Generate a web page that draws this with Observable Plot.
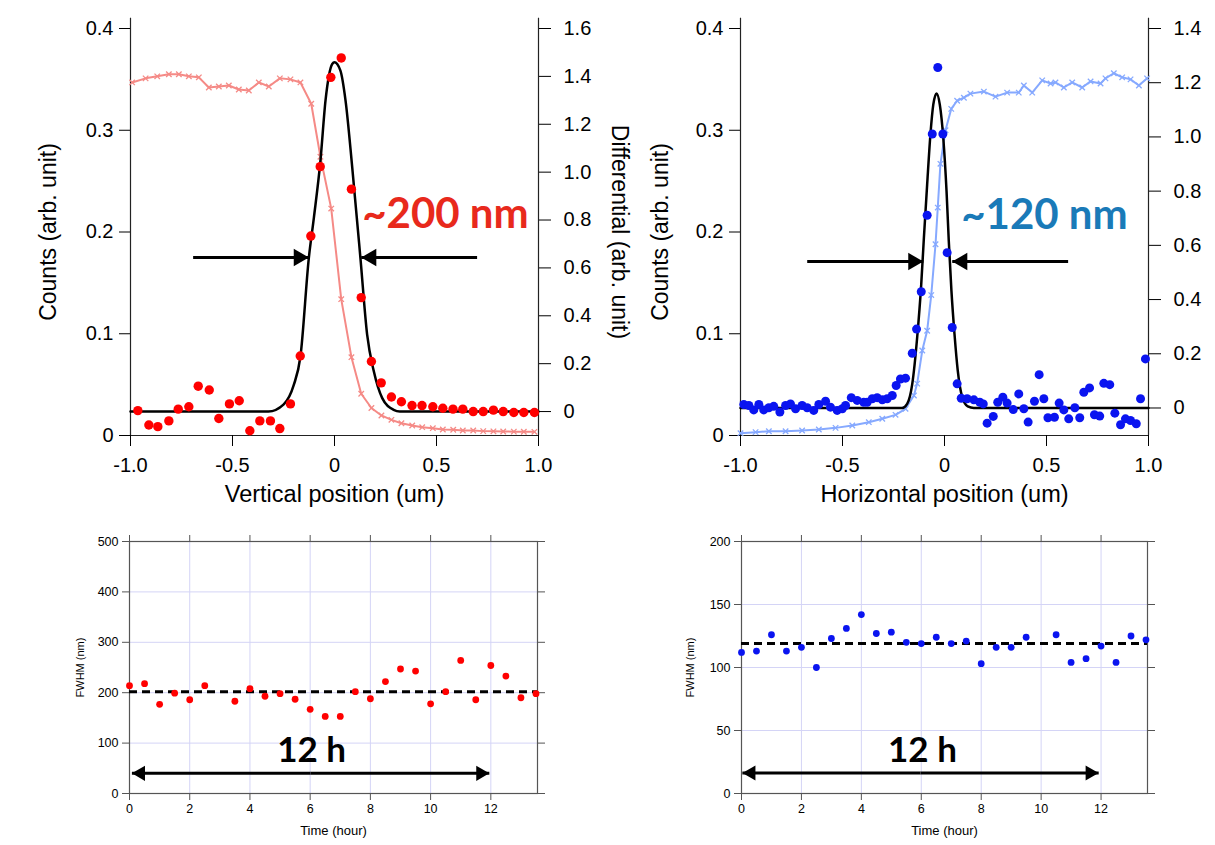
<!DOCTYPE html>
<html><head><meta charset="utf-8">
<script src="https://cdn.jsdelivr.net/npm/d3@7"></script>
<script src="https://cdn.jsdelivr.net/npm/@observablehq/plot@0.6"></script>
<style>
body{margin:0;background:#fff;}
#wrap{position:relative;width:1215px;height:845px;overflow:hidden;background:#fff;}
#wrap svg{position:absolute;overflow:visible;background:transparent;}
</style></head><body><div id="wrap"></div>
<script>
// ---------------- DATA ----------------
// Top-left: vertical scan
const tlCountX = [-0.992,-0.926,-0.869,-0.812,-0.763,-0.714,-0.665,-0.616,-0.567,-0.518,-0.469,-0.420,-0.371,-0.322,-0.268,-0.216,-0.167,-0.114,-0.069,-0.016,0.033,0.083,0.131,0.181,0.230,0.279,0.328,0.381,0.430,0.482,0.531,0.582,0.629,0.680,0.729,0.779,0.827,0.879,0.928,0.980];
const tlCountY = [0.347,0.351,0.353,0.355,0.355,0.353,0.352,0.342,0.343,0.344,0.340,0.339,0.347,0.343,0.351,0.350,0.347,0.326,0.274,0.223,0.134,0.077,0.041,0.027,0.0197,0.0154,0.0121,0.0098,0.0082,0.0072,0.0059,0.0056,0.0049,0.0049,0.0043,0.0041,0.0040,0.0038,0.0037,0.0036];
const tlDiffX = [-0.964,-0.910,-0.866,-0.812,-0.766,-0.714,-0.668,-0.614,-0.567,-0.515,-0.467,-0.415,-0.366,-0.314,-0.268,-0.216,-0.168,-0.116,-0.070,-0.018,0.033,0.083,0.131,0.181,0.229,0.279,0.328,0.380,0.429,0.482,0.531,0.581,0.629,0.680,0.729,0.779,0.827,0.879,0.928,0.980];
const tlDiffY = [0.004,-0.056,-0.063,-0.039,0.010,0.020,0.106,0.090,-0.029,0.032,0.045,-0.080,-0.039,-0.039,-0.071,0.032,0.232,0.733,1.023,1.396,1.477,0.929,0.476,0.209,0.120,0.061,0.041,0.025,0.025,0.020,0.014,0.010,0.010,0.000,0.000,0.006,0.000,-0.004,-0.004,-0.004];
const tlFitX = [-1,-0.324,-0.249,-0.200,-0.167,-0.126,-0.101,-0.069,-0.044,-0.011,0.000,0.029,0.054,0.087,0.127,0.160,0.193,0.234,0.290,0.320,1.0];
const tlFitY = [0,0,0.03,0.11,0.23,0.64,0.81,1.047,1.30,1.452,1.459,1.424,1.30,1.019,0.642,0.321,0.167,0.056,0.007,0,0];
const tlRightDomain = [-0.100, 1.600];
const tlLeftTicks = [0,0.1,0.2,0.3,0.4];
const tlRightTicks = [0,0.2,0.4,0.6,0.8,1.0,1.2,1.4,1.6];
const topXTicks = [-1,-0.5,0,0.5,1];
const tlArrowY = 0.175, tlArrowL = [-0.693,-0.126], tlArrowR = [0.699,0.131];
const tlLabel = {x:0.544, y:0.217, text:"~200 nm"};

// Top-right: horizontal scan
const trCountX = [-1.0,-0.926,-0.861,-0.779,-0.698,-0.616,-0.534,-0.452,-0.371,-0.305,-0.240,-0.191,-0.150,-0.134,-0.109,-0.085,-0.065,-0.044,-0.033,-0.020,0.005,0.033,0.062,0.095,0.127,0.193,0.250,0.307,0.364,0.389,0.430,0.479,0.520,0.544,0.585,0.626,0.675,0.716,0.765,0.789,0.830,0.871,0.912,0.953,0.993];
const trCountY = [0.0023,0.0033,0.0042,0.0042,0.0049,0.0059,0.0075,0.0098,0.0131,0.0164,0.0203,0.0262,0.0393,0.051,0.0835,0.103,0.138,0.188,0.224,0.267,0.300,0.321,0.329,0.332,0.336,0.338,0.333,0.337,0.337,0.344,0.337,0.349,0.346,0.347,0.342,0.347,0.342,0.348,0.346,0.351,0.356,0.352,0.350,0.344,0.351];
const trDiffX = [-0.984,-0.959,-0.935,-0.910,-0.886,-0.861,-0.837,-0.807,-0.779,-0.755,-0.730,-0.698,-0.673,-0.641,-0.616,-0.583,-0.559,-0.526,-0.501,-0.485,-0.457,-0.428,-0.396,-0.379,-0.354,-0.330,-0.305,-0.281,-0.256,-0.237,-0.216,-0.191,-0.158,-0.137,-0.114,-0.085,-0.060,-0.033,-0.008,0.013,0.038,0.062,0.082,0.111,0.144,0.173,0.190,0.209,0.239,0.261,0.286,0.307,0.337,0.364,0.389,0.410,0.441,0.464,0.487,0.507,0.539,0.562,0.585,0.609,0.639,0.663,0.683,0.711,0.735,0.761,0.781,0.810,0.835,0.863,0.887,0.912,0.940,0.961,0.985];
const trDiffY = [0.013,0.009,-0.007,0.013,-0.007,0.001,0.006,-0.015,0.009,0.015,-0.003,0.009,0.001,-0.009,0.013,0.025,0.003,-0.009,-0.003,0.009,0.038,0.028,0.021,0.021,0.034,0.038,0.030,0.034,0.046,0.083,0.107,0.110,0.202,0.291,0.429,0.711,1.011,1.256,1.011,0.573,0.297,0.089,0.036,0.034,0.030,0.021,0.015,-0.056,-0.031,0.021,0.040,0.018,-0.006,0.052,-0.003,-0.052,0.025,0.123,0.034,-0.036,-0.034,0.018,-0.007,-0.040,0.001,-0.036,0.058,0.074,-0.025,-0.030,0.091,0.086,-0.019,-0.062,-0.040,-0.046,-0.058,0.034,0.181];
const trFitX = [-1,-0.207,-0.183,-0.158,-0.134,-0.114,-0.101,-0.085,-0.069,-0.055,-0.039,-0.023,-0.006,0.010,0.021,0.034,0.049,0.065,0.087,0.114,0.144,1.0];
const trFitY = [0,0,0.015,0.089,0.26,0.457,0.628,0.825,1.009,1.119,1.160,1.119,0.996,0.800,0.616,0.432,0.273,0.138,0.040,0.006,0,0];
const trRightDomain = [-0.1015, 1.400];
const trLeftTicks = [0,0.1,0.2,0.3,0.4];
const trRightTicks = [0,0.2,0.4,0.6,0.8,1.0,1.2,1.4];
const trArrowY = 0.171, trArrowL = [-0.673,-0.104], trArrowR = [0.606,0.038];
const trLabel = {x:0.490, y:0.216, text:"~120 nm"};

// Bottom-left: vertical FWHM over time
const blTime = [0,0.5,1,1.5,2,2.5,3.5,4,4.5,5,5.5,6,6.5,7,7.5,8,8.5,9,9.5,10,10.5,11,11.5,12,12.5,13,13.5];
const blFwhm = [214,218,177,199,186,214,183,208,193,198,187,167,153,153,202,188,222,247,243,178,202,264,186,254,233,190,198];
const blMean = 202;
const blYTicks = [0,100,200,300,400,500];
const blArrow = {y:40, x1:0.08, x2:11.95};
const blLabel = {x:6.05, y:85, text:"12 h"};

// Bottom-right: horizontal FWHM over time
const brTime = [0,0.5,1,1.5,2,2.5,3,3.5,4,4.5,5,5.5,6,6.5,7,7.5,8,8.5,9,9.5,10.5,11,11.5,12,12.5,13,13.5];
const brFwhm = [112,113,126,113,116,100,123,131,142,127,128,120,119,124,119,121,103,116,116,124,126,104,107,117,104,125,122];
const brMean = 119;
const brYTicks = [0,50,100,150,200];
const brArrow = {y:16.3, x1:0.03, x2:11.92};
const brLabel = {x:6.04, y:34, text:"12 h"};

const timeTicks = [0,2,4,6,8,10,12];
const timeDomain = [0, 13.55];

// ---------------- HELPERS ----------------
const FONT = "'Liberation Sans', Arial, Helvetica, sans-serif";
const BOLD = "Lato, 'Open Sans', sans-serif";
const fmtTop = d => Math.abs(d) < 1e-9 ? "0" : d.toFixed(1);
const zip = (xs, ys) => xs.map((x, i) => ({x, y: ys[i]}));
const wrap = document.getElementById("wrap");

function mapper(rd) { // right-axis value -> left-axis units (0..0.4)
  const f = r => (r - rd[0]) / (rd[1] - rd[0]) * 0.4;
  const inv = l => rd[0] + l / 0.4 * (rd[1] - rd[0]);
  return [f, inv];
}

function arrowMarks(y, x1, x2, s, thick) { // shaft from x1 toward tip x2, filled head
  const dir = x2 > x1 ? 1 : -1;
  return [
    Plot.link([{x1, x2, y}], {x1: "x1", x2: "x2", y1: "y", y2: "y", stroke: "black", strokeWidth: thick}),
    Plot.dot([{x: x2, y}], {x: "x", y: "y", symbol: "triangle2", r: s, fill: "black", stroke: "none",
      rotate: dir > 0 ? 90 : -90, dx: -dir * s * 1.21})
  ];
}

function topPanel(o) {
  const [toL, toR] = mapper(o.rightDomain);
  const counts = zip(o.countX, o.countY);
  const diff = zip(o.diffX, o.diffY);
  const fit = zip(o.fitX, o.fitY);
  const marks = [
    Plot.ruleY([0], {stroke: "#222", strokeWidth: 1.2}),
    Plot.ruleX([-1, 1], {y1: 0, y2: 0.41, stroke: "#222", strokeWidth: 1.2}),
    Plot.axisX({ticks: topXTicks, tickFormat: fmtTop, tickSize: 11, tickPadding: 11, fontSize: 20, label: null}),
    Plot.axisY({anchor: "left", ticks: o.leftTicks, tickFormat: fmtTop, tickSize: 11, tickPadding: 6, fontSize: 20, label: null}),
    Plot.axisY(o.rightTicks.map(toL), {anchor: "right", tickFormat: d => fmtTop(toR(d)), tickSize: 12, tickPadding: 13, fontSize: 20, label: null}),
    Plot.line(counts, {x: "x", y: "y", stroke: o.countColor, strokeWidth: 2}),
    Plot.dot(counts, {x: "x", y: "y", symbol: "times", r: 2.6, stroke: o.countColor, strokeWidth: 1.3}),
    Plot.line(fit, {x: "x", y: d => toL(d.y), curve: "monotone-x", stroke: "black", strokeWidth: 2.5}),
    Plot.dot(diff, {x: "x", y: d => toL(d.y), r: o.dotR, fill: o.dotColor, stroke: "none"}),
    ...arrowMarks(o.arrowY, o.arrowL[0], o.arrowL[1], 8.3, 3),
    ...arrowMarks(o.arrowY, o.arrowR[0], o.arrowR[1], 8.3, 3),
    Plot.text([o.label], {x: "x", y: "y", text: "text", fill: o.labelColor, fontSize: 42, fontWeight: "bold", fontFamily: BOLD, textAnchor: "middle"}),
    Plot.text([o.xTitle], {text: d => d, frameAnchor: "bottom", dy: 66, fontSize: 23.5, fill: "black", textAnchor: "middle"}),
    Plot.text([o.yTitle], {text: d => d, frameAnchor: "left", dx: o.yTitleDx, rotate: -90, fontSize: 23, fill: "black", textAnchor: "middle"})
  ];
  if (o.rTitle) marks.push(Plot.text([o.rTitle], {text: d => d, frameAnchor: "right", dx: 81, rotate: 90, fontSize: 23, fill: "black", textAnchor: "middle"}));
  const svg = Plot.plot({
    width: o.width, height: 500,
    marginLeft: o.ml, marginRight: o.mr, marginTop: 28, marginBottom: 65,
    x: {domain: [-1, 1]},
    y: {domain: [0, 0.4]},
    style: {fontFamily: FONT, color: "black", background: "transparent", overflow: "visible", position: "absolute", left: o.left + "px", top: "0px"},
    marks
  });
  wrap.appendChild(svg);
}

function bottomPanel(o) {
  const pts = zip(o.time, o.fwhm);
  const svg = Plot.plot({
    width: o.width, height: 325,
    marginLeft: o.ml, marginRight: o.mr, marginTop: 21, marginBottom: 52,
    x: {domain: timeDomain},
    y: {domain: [o.yTicks[0], o.yTicks[o.yTicks.length - 1]]},
    style: {fontFamily: FONT, color: "black", background: "transparent", overflow: "visible", position: "absolute", left: o.left + "px", top: "520px"},
    marks: [
      Plot.gridX({ticks: timeTicks, stroke: "#d4d4f6", strokeOpacity: 1, strokeWidth: 1}),
      Plot.gridY({ticks: o.yTicks, stroke: "#d4d4f6", strokeOpacity: 1, strokeWidth: 1}),
      Plot.frame({stroke: "#555", strokeWidth: 1.2}),
      Plot.axisX({ticks: timeTicks, tickSize: 7, tickPadding: 4, fontSize: 12.5, label: null, stroke: "#555"}),
      Plot.axisX({anchor: "top", ticks: timeTicks, tickSize: 7, tickFormat: () => "", label: null, stroke: "#555"}),
      Plot.axisY({ticks: o.yTicks, tickSize: 7, tickPadding: 4, fontSize: 12.5, label: null, stroke: "#555"}),
      Plot.axisY({anchor: "right", ticks: o.yTicks, tickSize: 7, tickFormat: () => "", label: null, stroke: "#555"}),
      Plot.ruleY([o.mean], {stroke: "black", strokeWidth: 3, strokeDasharray: "8,5"}),
      Plot.dot(pts, {x: "x", y: "y", r: 3.4, fill: o.color, stroke: "none"}),
      ...arrowMarks(o.arrow.y, (o.arrow.x1 + o.arrow.x2) / 2, o.arrow.x2, 7.2, 3),
      ...arrowMarks(o.arrow.y, (o.arrow.x1 + o.arrow.x2) / 2, o.arrow.x1, 7.2, 3),
      Plot.text([o.label], {x: "x", y: "y", text: "text", fontSize: 35, fontWeight: "bold", fontFamily: BOLD, fill: "black", textAnchor: "middle"}),
      Plot.text(["Time (hour)"], {text: d => d, frameAnchor: "bottom", dy: 41, fontSize: 13, fill: "black", textAnchor: "middle"}),
      Plot.text(["FWHM (nm)"], {text: d => d, frameAnchor: "left", dx: o.yTitleDx, rotate: -90, fontSize: 11, fill: "black", textAnchor: "middle"})
    ]
  });
  wrap.appendChild(svg);
}

// ---------------- DRAW ----------------
topPanel({
  left: 0, width: 640, ml: 130, mr: 102,
  countX: tlCountX, countY: tlCountY, diffX: tlDiffX, diffY: tlDiffY, fitX: tlFitX, fitY: tlFitY,
  rightDomain: tlRightDomain, leftTicks: tlLeftTicks, rightTicks: tlRightTicks,
  countColor: "#f58a86", dotColor: "#ff0000", dotR: 4.7,
  arrowY: tlArrowY, arrowL: tlArrowL, arrowR: tlArrowR,
  label: tlLabel, labelColor: "#e8291c",
  xTitle: "Vertical position (um)", yTitle: "Counts (arb. unit)", yTitleDx: -82,
  rTitle: "Differential (arb. unit)"
});
topPanel({
  left: 640, width: 575, ml: 100, mr: 67,
  countX: trCountX, countY: trCountY, diffX: trDiffX, diffY: trDiffY, fitX: trFitX, fitY: trFitY,
  rightDomain: trRightDomain, leftTicks: trLeftTicks, rightTicks: trRightTicks,
  countColor: "#86a9ff", dotColor: "#0a14f0", dotR: 4.5,
  arrowY: trArrowY, arrowL: trArrowL, arrowR: trArrowR,
  label: trLabel, labelColor: "#1a7ab8",
  xTitle: "Horizontal position (um)", yTitle: "Counts (arb. unit)", yTitleDx: -80
});
bottomPanel({
  left: 0, width: 610, ml: 129, mr: 73,
  time: blTime, fwhm: blFwhm, mean: blMean, yTicks: blYTicks, color: "#ff0000",
  arrow: blArrow, label: blLabel, yTitleDx: -49
});
bottomPanel({
  left: 610, width: 605, ml: 131, mr: 68,
  time: brTime, fwhm: brFwhm, mean: brMean, yTicks: brYTicks, color: "#0a14f0",
  arrow: brArrow, label: brLabel, yTitleDx: -51
});
</script></body></html>
